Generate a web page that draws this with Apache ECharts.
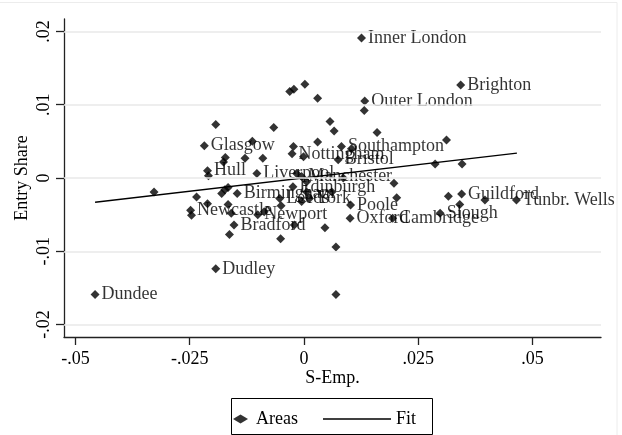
<!DOCTYPE html>
<html>
<head>
<meta charset="utf-8">
<script src="https://cdn.jsdelivr.net/npm/echarts@6/dist/echarts.min.js"></script>
<style>
html,body{margin:0;padding:0;background:#fff;}
#chart{width:622px;height:435px;}
</style>
</head>
<body>
<div id="chart"></div>
<script>
// ---- data ----
const areaNames = ['Dundee','','Newcastle','','','','Glasgow','','Hull','','','','','Birmingham','','','Bradford','','Dudley','','','','','','','Liverpool','Newport','','Leeds','','','Edinburgh','','','','','','','Nottingham','','','','Manchester','','York','','','Southampton','','Bristol','Outer London','','Inner London','','','','','Brighton','','','','','','','','Poole','Oxford','Cambridge','','','Slough','','Guildford','','','Tunbr. Wells'];
const sEmp = [-0.0457,-0.0328,-0.0248,-0.0246,-0.0235,-0.0211,-0.0218,-0.0193,-0.0211,-0.0209,-0.0180,-0.0173,-0.0166,-0.0146,-0.0166,-0.0159,-0.0153,-0.0163,-0.0193,-0.0172,-0.0176,-0.0129,-0.0113,-0.0090,-0.0066,-0.0103,-0.0101,-0.0087,-0.0053,-0.0050,-0.0051,-0.0024,-0.0021,-0.0031,-0.0022,0.0002,0.0030,-0.0023,-0.0026,-0.0001,0.0030,-0.0016,-0.0005,-0.0005,0.0012,0.0057,0.0066,0.0082,0.0104,0.0075,0.0133,0.0132,0.0126,0.0160,0.0312,0.0287,0.0346,0.0343,0.0086,0.0061,0.0006,0.0006,0.0046,0.0070,0.0070,0.0102,0.0101,0.0194,0.0197,0.0203,0.0298,0.0316,0.0345,0.0341,0.0396,0.0465];
const entryShare = [-0.0159,-0.0019,-0.0044,-0.0051,-0.0026,-0.0035,0.0044,0.0073,0.0010,0.0003,-0.0021,-0.0016,-0.0013,-0.0021,-0.0036,-0.0048,-0.0064,-0.0077,-0.0124,0.0028,0.0022,0.0027,0.0050,0.0027,0.0069,0.0006,-0.0050,-0.0046,-0.0028,-0.0038,-0.0083,-0.0012,-0.0064,0.0118,0.0121,0.0128,0.0109,0.0043,0.0033,0.0029,0.0049,0.0006,0.0002,-0.0032,-0.0028,0.0077,0.0064,0.0043,0.0040,0.0025,0.0105,0.0092,0.0191,0.0062,0.0052,0.0019,0.0019,0.0127,0.0000,-0.0019,-0.0019,-0.0005,-0.0068,-0.0094,-0.0159,-0.0037,-0.0055,-0.0055,-0.0007,-0.0027,-0.0048,-0.0025,-0.0022,-0.0036,-0.0030,-0.0030];
const fitX = [-0.0457, 0.0466];
const fitY = [-0.0033, 0.0034];
const xTicks = [-0.05, -0.025, 0, 0.025, 0.05];
const xTickLabels = ['-.05', '-.025', '0', '.025', '.05'];
const yTicks = [-0.02, -0.01, 0, 0.01, 0.02];
const yTickLabels = ['-.02', '-.01', '0', '.01', '.02'];

// ---- chart ----
const FONT = '"Liberation Serif", "Times New Roman", serif';
const chart = echarts.init(document.getElementById('chart'), null, {renderer: 'canvas'});

const scatterData = sEmp.map((x, i) => ({value: [x, entryShare[i]], name: areaNames[i]}));
const fitData = fitX.map((x, i) => [x, fitY[i]]);

function fmt(ticks, labels) {
  return function (v) {
    for (let i = 0; i < ticks.length; i++) if (Math.abs(v - ticks[i]) < 1e-9) return labels[i];
    return '';
  };
}

chart.setOption({
  backgroundColor: '#fff',
  animation: false,
  textStyle: {fontFamily: FONT},
  grid: {left: 64, right: 21, top: 19, bottom: 98},
  xAxis: {
    type: 'value', min: -0.0525, max: 0.0650,
    name: 'S-Emp.', nameLocation: 'middle', nameGap: 32, nameMoveOverlap: false,
    nameTextStyle: {fontFamily: FONT, fontSize: 18, color: '#000'},
    axisLine: {show: true, onZero: false, lineStyle: {color: '#222', width: 1.3}},
    axisTick: {show: true, length: 8, customValues: xTicks, lineStyle: {color: '#222', width: 1.3}},
    axisLabel: {customValues: xTicks, formatter: fmt(xTicks, xTickLabels), margin: 13, fontFamily: FONT, fontSize: 18, color: '#000'},
    splitLine: {show: false}
  },
  yAxis: {
    type: 'value', min: -0.0217, max: 0.0217,
    name: 'Entry Share', nameLocation: 'middle', nameGap: 33, nameMoveOverlap: false,
    nameTextStyle: {fontFamily: FONT, fontSize: 18, color: '#000'},
    axisLine: {show: true, onZero: false, lineStyle: {color: '#222', width: 1.3}},
    axisTick: {show: true, length: 8, customValues: yTicks, lineStyle: {color: '#222', width: 1.3}},
    axisLabel: {customValues: yTicks, formatter: fmt(yTicks, yTickLabels), rotate: 90, margin: 11, fontFamily: FONT, fontSize: 18, color: '#000'},
    splitLine: {show: false}
  },
  legend: [
    {data: ['Areas'], left: 233, top: 410, itemWidth: 15, itemHeight: 9, padding: 0,
     textStyle: {fontFamily: FONT, fontSize: 18, color: '#000', padding: [0, 0, 0, 3]}},
    {data: [{name: 'Fit', icon: 'rect'}], left: 323, top: 410, itemWidth: 68, itemHeight: 1.4, padding: 0,
     itemStyle: {color: '#000'},
     textStyle: {fontFamily: FONT, fontSize: 18, color: '#000'}}
  ],
  graphic: [
    {type: 'rect', shape: {x: 231.5, y: 398.5, width: 201, height: 36}, style: {fill: 'none', stroke: '#000', lineWidth: 1}, silent: true},
    {type: 'rect', shape: {x: -2, y: 2.5, width: 619, height: 440}, style: {fill: 'none', stroke: '#ececec', lineWidth: 1}, silent: true}
  ],
  series: [
    {
      type: 'line', name: 'grid', data: [], z: 0, silent: true,
      markLine: {
        silent: true, symbol: 'none', label: {show: false},
        lineStyle: {color: '#e8e8e8', width: 1.5, type: 'solid'},
        data: yTicks.map(v => ({yAxis: v}))
      }
    },
    {
      type: 'line', name: 'Fit', data: fitData, symbol: 'none', z: 3,
      lineStyle: {color: '#000', width: 1.4}, itemStyle: {color: '#000'}
    },
    {
      type: 'scatter', name: 'Areas', data: scatterData, symbol: 'diamond', symbolSize: 9, z: 4,
      itemStyle: {color: '#000'},
      label: {show: true, position: 'right', distance: 2, formatter: p => p.name,
              fontFamily: FONT, fontSize: 18, color: '#000'}
    }
  ]
});
</script>
</body>
</html>
